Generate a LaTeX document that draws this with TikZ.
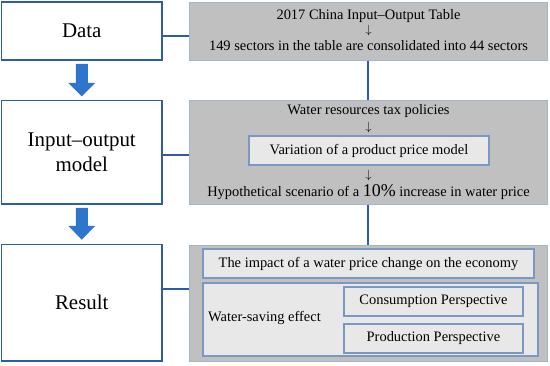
\documentclass[tikz,border=0pt]{standalone}
\usepackage{fontspec}
\setmainfont{Liberation Serif}
\usetikzlibrary{calc}
\definecolor{leftblue}{RGB}{46,92,170}
\definecolor{arrowblue}{RGB}{46,117,206}
\definecolor{grayfill}{RGB}{192,192,192}
\definecolor{grayline}{RGB}{162,180,206}
\definecolor{innerfill}{RGB}{232,232,232}
\definecolor{innerline}{RGB}{122,152,196}
\newcommand{\darr}{{\fontsize{13}{13}\selectfont$\downarrow$}}
\tikzset{
  leftbox/.style={draw=leftblue, line width=1.5bp, fill=white, inner sep=0pt, align=center, font=\fontsize{21}{25}\selectfont},
  graybox/.style={draw=grayline, line width=1bp, fill=grayfill, inner sep=0pt},
  innerbox/.style={draw=innerline, line width=1.3bp, fill=innerfill, inner sep=0pt},
  txt/.style={inner sep=0pt, font=\fontsize{14.5}{17}\selectfont},
  conn/.style={draw=leftblue, line width=2bp},
  fatarrow/.style={fill=arrowblue, draw=none}
}
\begin{document}
\begin{tikzpicture}[x=1bp,y=-1bp]
\useasboundingbox (0,0) rectangle (550,365);
% left boxes
\node[leftbox, minimum width=160.5bp, minimum height=58bp] (data) at (81.75,31) {Data};
\node[leftbox, minimum width=160.5bp, minimum height=103.5bp] (inp) at (81.75,152.25) {Input–output\\model};
\node[leftbox, minimum width=160.5bp, minimum height=116.5bp] (res) at (81.75,302.75) {Result};
% gray boxes
\node[graybox, minimum width=358.5bp, minimum height=58bp] (g1) at (368.25,31) {};
\node[graybox, minimum width=358.5bp, minimum height=104bp] (g2) at (368.25,152) {};
\node[graybox, minimum width=358.5bp, minimum height=116bp] (g3) at (368.25,303) {};
% gray box 1 texts
\node[txt] (t1) at (368.5,16.5) {2017 China Input–Output Table};
\node[txt] (a1) at (368.5,31) {\darr};
\node[txt] (t2) at (368.5,45.5) {149 sectors in the table are consolidated into 44 sectors};
% gray box 2 texts
\node[txt] (t3) at (368.5,111) {Water resources tax policies};
\node[txt] (a2) at (368.5,128) {\darr};
\node[innerbox, txt, minimum width=240bp, minimum height=29bp] (var) at (369,150.5) {Variation of a product price model};
\node[txt] (a3) at (368.5,176) {\darr};
\node[txt] (t4) at (368.5,192.5) {Hypothetical scenario of a {\fontsize{18}{18}\selectfont 10\%} increase in water price};
% gray box 3 content
\node[innerbox, txt, minimum width=331bp, minimum height=29bp] (imp) at (368.5,263.5) {The impact of a water price change on the economy};
\node[innerbox, minimum width=335bp, minimum height=73bp] (ws) at (370.5,319.5) {};
\node[txt, anchor=west] (wst) at (208,318) {Water-saving effect};
\node[innerbox, txt, minimum width=179bp, minimum height=29bp] (cons) at (433.5,301.5) {Consumption Perspective};
\node[innerbox, txt, minimum width=179bp, minimum height=29bp] (prod) at (433.5,338.5) {Production Perspective};
% connectors
\draw[conn] (data.east |- 0,35.5) -- (g1.west |- 0,35.5);
\draw[conn] (inp.east |- 0,154.5) -- (g2.west |- 0,154.5);
\draw[conn] (res.east |- 0,288.5) -- (g3.west |- 0,288.5);
\draw[conn] ([xshift=-0.25bp]g1.south) -- ([xshift=-0.25bp]g2.north);
\draw[conn] ([xshift=-0.25bp]g2.south) -- ([xshift=-0.25bp]g3.north);
% fat arrows
\fill[fatarrow] ($(data.south)+(-6,3)$) -- ++(12,0) -- ++(0,19) -- ++(7.5,0) -- ($(inp.north)+(0,-3.5)$) -- ($(data.south)+(-13.5,22)$) -- ++(7.5,0) -- cycle;
\fill[fatarrow] ($(inp.south)+(-6,3)$) -- ++(12,0) -- ++(0,18) -- ++(7.5,0) -- ($(res.north)+(0,-4)$) -- ($(inp.south)+(-13.5,21)$) -- ++(7.5,0) -- cycle;
\end{tikzpicture}
\end{document}
